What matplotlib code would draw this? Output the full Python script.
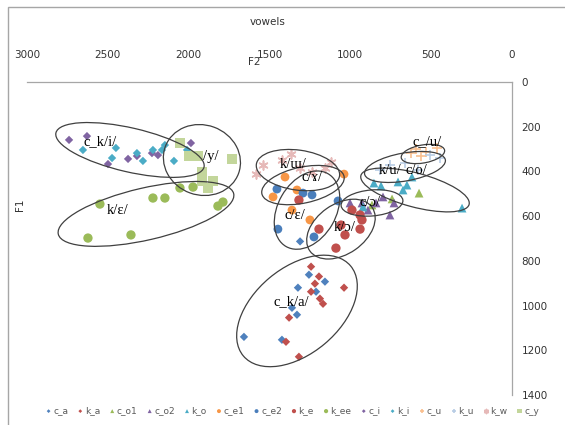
import matplotlib
matplotlib.use("Agg")
import matplotlib.pyplot as plt
from matplotlib.patches import Ellipse, Rectangle
from matplotlib.transforms import ScaledTranslation

# formant values (F2, F1) per series
c_a_f2 = [1256, 1157, 1324, 1212, 1361, 1330, 1658, 1423, 1311]
c_a_f1 = [862, 893, 920, 938, 1010, 1041, 1140, 1153, 713]
k_a_f2 = [1243, 1194, 1219, 1039, 1243, 1188, 1169, 1379, 1398, 1318]
k_a_f1 = [826, 870, 902, 920, 938, 969, 992, 1054, 1162, 1229]
c_o1_f2 = [575, 742, 866]
c_o1_f1 = [497, 523, 550]
c_o2_f2 = [1002, 928, 891, 841, 798, 755, 730]
c_o2_f1 = [541, 541, 573, 541, 514, 595, 541]
k_o_f2 = [922, 854, 810, 705, 674, 650, 619, 309]
k_o_f1 = [559, 452, 465, 447, 483, 461, 425, 564]
c_e1_f2 = [1404, 1039, 1478, 1330, 1361, 1250]
c_e1_f1 = [425, 412, 514, 483, 573, 617]
c_e2_f2 = [1454, 1293, 1237, 1076, 1448, 1225]
c_e2_f1 = [479, 497, 505, 532, 658, 693]
k_e_f2 = [1318, 1194, 1089, 1058, 1033, 990, 940, 928, 940]
k_e_f1 = [528, 658, 743, 640, 684, 573, 595, 617, 658]
k_ee_f2 = [2549, 2221, 2147, 2054, 1973, 1819, 1788, 2623, 2357]
k_ee_f1 = [546, 519, 519, 474, 470, 555, 537, 698, 684]
c_i_f2 = [2740, 2629, 2499, 2375, 2320, 2227, 2190, 1986]
c_i_f1 = [259, 242, 367, 344, 331, 318, 327, 273]
k_i_f2 = [2654, 2450, 2474, 2320, 2283, 2221, 2165, 2147, 2091, 2010]
k_i_f1 = [304, 295, 340, 318, 353, 304, 304, 282, 353, 304]
c_u_f2 = [625, 594, 563, 532, 464]
c_u_f1 = [318, 300, 331, 313, 295]
k_u_f2 = [817, 755, 662, 581, 507, 445]
k_u_f1 = [394, 371, 362, 394, 327, 340]
k_w_f2 = [1584, 1540, 1423, 1367, 1311, 1237, 1157, 1120]
k_w_f1 = [412, 371, 349, 322, 385, 403, 385, 358]
c_y_f2 = [2054, 1998, 1942, 1918, 1918, 1850, 1881, 1732]
c_y_f1 = [273, 331, 331, 403, 443, 443, 474, 344]

series = [
    ("c_a", c_a_f2, c_a_f1, "D", "#4F81BD", 18),
    ("k_a", k_a_f2, k_a_f1, "D", "#C0504D", 18),
    ("c_o1", c_o1_f2, c_o1_f1, "^", "#9BBB59", 40),
    ("c_o2", c_o2_f2, c_o2_f1, "^", "#8064A2", 40),
    ("k_o", k_o_f2, k_o_f1, "^", "#4BACC6", 40),
    ("c_e1", c_e1_f2, c_e1_f1, "o", "#F79646", 40),
    ("c_e2", c_e2_f2, c_e2_f1, "o", "#4A7EBB", 40),
    ("k_e", k_e_f2, k_e_f1, "o", "#C0504D", 45),
    ("k_ee", k_ee_f2, k_ee_f1, "o", "#9BBB59", 45),
    ("c_i", c_i_f2, c_i_f1, "D", "#8064A2", 18),
    ("k_i", k_i_f2, k_i_f1, "D", "#4BACC6", 18),
    ("c_u", c_u_f2, c_u_f1, "+", "#FAC090", 45),
    ("k_u", k_u_f2, k_u_f1, "+", "#B9CDE5", 45),
    ("k_w", k_w_f2, k_w_f1, (6, 2, 0), "#E6B9B8", 40),
    ("c_y", c_y_f2, c_y_f1, "s", "#C3D69B", 50),
]

# ellipses: centre (F2, F1), width/height in pixels, angle in degrees
ellipses = [
    (2363, 304, 152, 44, -13),
    (1918, 349, 78, 70, -20),
    (2264, 590, 180, 52, 13),
    (1324, 394, 84, 40, -8),
    (1293, 461, 84, 36, 12),
    (1268, 573, 84, 58, 60),
    (1058, 658, 76, 50, 35),
    (866, 541, 62, 26, 5),
    (662, 380, 82, 28, 10),
    (600, 483, 112, 34, -15),
    (551, 322, 44, 18, 10),
    (1330, 1024, 140, 86, 40),
]

labels = [
    ("c_k/i/", 2549, 268),
    ("/y/", 1862, 335),
    ("k/ɛ/", 2437, 573),
    ("k/ɯ/", 1355, 371),
    ("c/ɤ/", 1237, 425),
    ("c/ɛ/", 1342, 595),
    ("k/ɔ/", 1033, 653),
    ("c/ɔ/", 878, 537),
    ("k/u/", 755, 398),
    ("c/o/", 594, 394),
    ("c_/u/", 526, 268),
    ("c_k/a/", 1367, 984),
]

W, H = 565, 425
fig = plt.figure(figsize=(W / 100, H / 100), dpi=100)
ax = fig.add_axes([27 / W, 1 - 395 / H, 485 / W, 313 / H])

for name, f2, f1, mk, col, s in series:
    if mk in ("+",) or isinstance(mk, tuple):
        ax.scatter(f2, f1, marker=mk, s=s, color=col, linewidths=1.2, label=name, zorder=3)
    else:
        ax.scatter(f2, f1, marker=mk, s=s, color=col, edgecolors="none", label=name, zorder=3)

for cx, cy, w, h, ang in ellipses:
    tr = fig.dpi_scale_trans + ScaledTranslation(cx, cy, ax.transData)
    ax.add_patch(Ellipse((0, 0), w / 100, h / 100, angle=ang, transform=tr,
                         fill=False, ec="#404040", lw=0.9, zorder=4))

for txt, x, y in labels:
    ax.text(x, y, txt, ha="center", va="center", fontsize=10.5,
            family=["Liberation Serif", "DejaVu Serif"], color="black", zorder=5)

ax.set_xlim(3000, 0)
ax.set_ylim(1400, 0)
ax.set_xticks([3000, 2500, 2000, 1500, 1000, 500, 0])
ax.set_yticks([0, 200, 400, 600, 800, 1000, 1200, 1400])
ax.xaxis.tick_top()
ax.yaxis.tick_right()
ax.tick_params(axis="x", length=0, pad=16, labelsize=7.5, labelcolor="#333333")
ax.tick_params(axis="y", length=0, pad=7, labelsize=7.5, labelcolor="#333333")
for side in ("left", "bottom"):
    ax.spines[side].set_visible(False)
for side in ("top", "right"):
    ax.spines[side].set_color("#A6A6A6")
    ax.spines[side].set_linewidth(0.9)

fig.text(268 / W, 1 - 22 / H, "vowels", ha="center", va="center", fontsize=7.5, color="#333333")
fig.text(254 / W, 1 - 62 / H, "F2", ha="center", va="center", fontsize=7.5, color="#333333")
fig.text(20 / W, 1 - 205 / H, "F1", ha="center", va="center", fontsize=7.5, rotation=90, color="#333333")

fig.legend(loc="center", bbox_to_anchor=(292 / W, 1 - 411 / H), ncol=15, fontsize=6.5,
           frameon=False, markerscale=0.45, handletextpad=0.1, columnspacing=0.95,
           handlelength=0.8, borderpad=0, labelcolor="#595959")

fig.add_artist(Rectangle((8 / W, -0.05), 1.0, 1 - 7 / H + 0.05, transform=fig.transFigure,
                         fill=False, ec="#A6A6A6", lw=1))

fig.savefig("out.png", dpi=100)
